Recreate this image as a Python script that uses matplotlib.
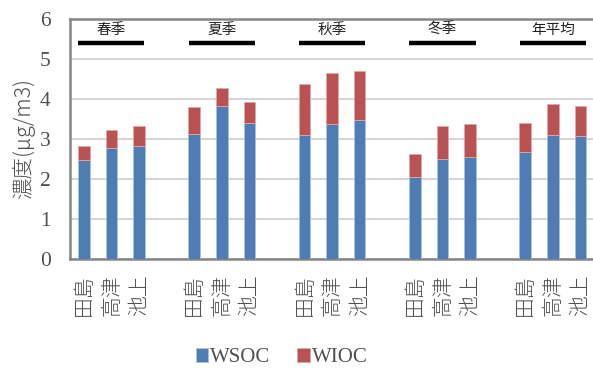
import numpy as np
import matplotlib
matplotlib.use("Agg")
import matplotlib.pyplot as plt

# サイト・季節ごとの炭素成分濃度
sites = ["田島", "高津", "池上"]
seasons = ["春季", "夏季", "秋季", "冬季", "年平均"]
wsoc = [2.46, 2.76, 2.83,
        3.13, 3.81, 3.40,
        3.09, 3.36, 3.46,
        2.05, 2.49, 2.55,
        2.68, 3.10, 3.06]
total = [2.83, 3.23, 3.32,
         3.79, 4.27, 3.92,
         4.37, 4.65, 4.70,
         2.62, 3.32, 3.36,
         3.40, 3.87, 3.82]
wioc = [t - s for t, s in zip(total, wsoc)]

BLUE = "#4F7DB3"
RED = "#B95252"
SERIF = "Liberation Serif"
CJK = "Noto Sans CJK JP"

fig = plt.figure(figsize=(5.93, 3.72), dpi=100)
ax = fig.add_axes([0.118, 0.304, 0.884, 0.646])

# 3本 + 空き1本 で1グループ
x = []
for g in range(len(seasons)):
    for k in range(len(sites)):
        x.append(g * 4 + k)
x = np.array(x)

ax.bar(x, wsoc, width=0.42, color=BLUE, edgecolor="#A9C0DE", linewidth=0.6,
       label="WSOC", zorder=3)
ax.bar(x, wioc, width=0.42, bottom=wsoc, color=RED, edgecolor="#E0A8A8",
       linewidth=0.6, label="WIOC", zorder=3)

ax.set_xlim(-0.5, 18.5)
ax.set_ylim(0, 6)
ax.set_yticks(range(7))
ax.grid(axis="y", color="#D4D4D4", linewidth=1.4, zorder=0)
ax.set_axisbelow(True)

for side in ["left", "bottom", "top"]:
    ax.spines[side].set_color("#868686")
    ax.spines[side].set_linewidth(1.8)
ax.spines["right"].set_visible(False)

ax.set_xticks(x)
ax.set_xticklabels(sites * len(seasons), rotation=90, family=CJK,
                   fontsize=15, color="#505050", va="top", fontweight="light")
ax.tick_params(axis="x", length=0, pad=11)
ax.tick_params(axis="y", length=0, pad=14, labelsize=15.5, labelcolor="#505050")
for t in ax.get_yticklabels():
    t.set_family(SERIF)

ax.set_ylabel("濃度(μg/m3)", family=[CJK, "DejaVu Sans"], fontsize=15.5,
              color="#505050", labelpad=3, fontweight="light")

# 季節ラベルと下線
for g, name in enumerate(seasons):
    c = g * 4 + 1
    ax.text(c, 5.72, name, ha="center", va="center", family=CJK,
            fontsize=10.5, color="#202020")
    ax.plot([c - 1.2, c + 1.2], [5.4, 5.4], color="black", linewidth=3.2,
            solid_capstyle="butt", zorder=4)

leg = fig.legend(loc="center", bbox_to_anchor=(0.475, 0.038), ncol=2, frameon=False,
                 handlelength=0.6, handleheight=0.6, handletextpad=0.1,
                 columnspacing=1.3, prop={"family": SERIF, "size": 15})
for t in leg.get_texts():
    t.set_color("#505050")

fig.savefig("out.png", dpi=100)
